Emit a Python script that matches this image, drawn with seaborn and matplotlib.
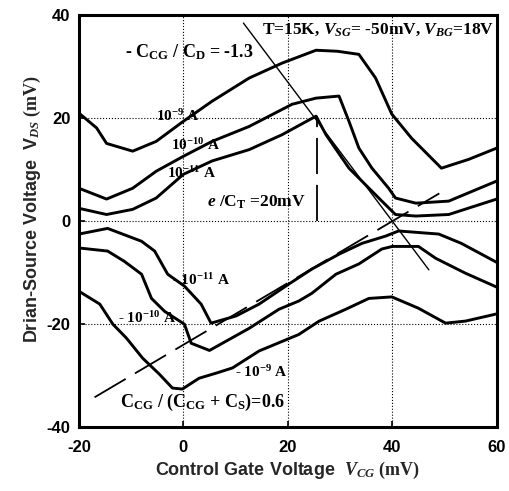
import numpy as np
import pandas as pd
import seaborn as sns
import matplotlib.pyplot as plt

# contour lines of constant drain current
c9_x = [-20, -16.6, -14.7, -9.7, -5.2, 0, 5.5, 12.6, 18.9, 25.4, 29.5, 33.6, 36.8, 39.9, 43.7, 49.4, 54.6, 60]
c9_y = [21, 18.1, 15.1, 13.6, 15.5, 19.4, 23.3, 27.8, 30.7, 33.2, 33.0, 32.4, 27.8, 20.8, 16.1, 10.3, 12.0, 14.2]

c10_x = [-20, -14.7, -9.7, -5.2, 0, 5.5, 12.6, 20.8, 25.4, 29.8, 31.7, 33.6, 36.1, 39.3, 40.6, 44.5, 50.8, 60]
c10_y = [6.4, 4.3, 6.4, 9.7, 12.6, 15.5, 18.4, 22.7, 23.9, 24.3, 19.4, 14.2, 10.3, 6.4, 4.5, 3.5, 3.9, 7.8]

c11_x = [-20, -14.7, -9.7, -5.2, 0, 5.5, 12.6, 18.9, 25.4, 27.3, 31.7, 38, 40.6, 44.5, 50.8, 60]
c11_y = [2.5, 1.3, 2.3, 4.5, 9.1, 11.7, 13.9, 16.8, 20.4, 16.8, 10.3, 3.9, 1.3, 1.0, 1.3, 4.3]

n11_x = [-20, -14.5, -8, -5.5, -3, 0.2, 3.4, 5.3, 10.1, 14.5, 20.2, 24.6, 29.8, 34.2, 38.7, 41.2, 48.9, 53.2, 60]
n11_y = [-2.5, -1.4, -3.9, -5.8, -10.3, -12.6, -16.1, -19.8, -18.4, -16.1, -12.2, -9.3, -6.4, -4.3, -2.9, -1.9, -2.5, -4.3, -8.0]

n10_x = [-20, -14.5, -11.3, -8, -6.1, -3.6, 0.2, 1.5, 5.0, 12.6, 18.3, 22.1, 24.6, 29.2, 33.6, 38, 40, 45, 48.3, 54, 60]
n10_y = [-5.2, -5.8, -7.8, -10.3, -15, -17.5, -20, -23.7, -25.1, -20.8, -17.1, -15.5, -14, -10.3, -8.3, -5.4, -4.9, -4.9, -7.2, -10.1, -12.8]

n9_x = [-20, -16, -13.5, -10.9, -7.8, -4.6, -2.1, -0.2, 3, 6.3, 9.4, 14.5, 22.1, 26, 31.1, 35.5, 39.9, 45, 50.2, 54, 60]
n9_y = [-13.6, -16.1, -20, -22.7, -26.6, -29.7, -32.4, -32.6, -30.5, -29.5, -28.5, -25.2, -22, -19.4, -17.1, -15, -14.7, -16.9, -19.8, -19.4, -18]

# guide lines: slopes through the crossing point at (40, 0)
pivot_x = 40
drain_slope = -1.35
drain_x = [11.5, 47]
source_slope = 0.6
source_x = [-17, 49]
charge_x = 25.5
charge_y = [0, 20.4]

curves = {
    'c9': (c9_x, c9_y), 'c10': (c10_x, c10_y), 'c11': (c11_x, c11_y),
    'n11': (n11_x, n11_y), 'n10': (n10_x, n10_y), 'n9': (n9_x, n9_y),
}
df = pd.concat([pd.DataFrame({'vcg': x, 'vds': y, 'curve': k}) for k, (x, y) in curves.items()])

sns.set_theme(style='ticks')
plt.rcParams['font.family'] = ['Liberation Sans', 'DejaVu Sans']
plt.rcParams['axes.unicode_minus'] = False
plt.rcParams['mathtext.fontset'] = 'custom'
plt.rcParams['mathtext.rm'] = 'Liberation Serif:bold'
plt.rcParams['mathtext.it'] = 'Liberation Serif:italic:bold'
plt.rcParams['mathtext.bf'] = 'Liberation Serif:bold'
plt.rcParams['mathtext.default'] = 'it'

fig = plt.figure(figsize=(5.09, 4.91), dpi=100)
ax = fig.add_axes([0.155, 0.130, 0.821, 0.839])

sns.lineplot(data=df, x='vcg', y='vds', units='curve', estimator=None, sort=False,
             color='black', linewidth=2.1, ax=ax)

# thin guide lines
dx = np.array(drain_x)
sns.lineplot(x=dx, y=drain_slope * (dx - pivot_x), color='black', linewidth=1.0, ax=ax)
sx = np.array(source_x)
sns.lineplot(x=sx, y=source_slope * (sx - pivot_x), color='black', linewidth=1.3,
             dashes=False, ax=ax).lines[-1].set_dashes((20, 6))
ax.plot([charge_x, charge_x], charge_y, color='black', linewidth=1.3, dashes=(20, 6))

ax.set_xlim(-20, 60)
ax.set_ylim(-40, 40)
ax.set_xticks([-20, 0, 20, 40, 60])
ax.set_yticks([-40, -20, 0, 20, 40])
ax.grid(True, linestyle=':', color='black', linewidth=0.8)
for s in ax.spines.values():
    s.set_linewidth(2.2)
    s.set_color('black')
ax.tick_params(direction='in', length=4, width=1.2, labelsize=12, colors='black')
ax.tick_params(axis='x', pad=9)
ax.tick_params(axis='y', pad=6)
for lab in ax.get_xticklabels() + ax.get_yticklabels():
    lab.set_fontweight('bold')

ax.set_xlabel(r'Control Gate Voltage  $V_{CG}$ $\mathrm{(mV)}$', fontsize=13, fontweight='bold')
ax.set_ylabel(r'Drian-Source Voltage  V$_{DS}$ $\mathrm{(mV)}$', fontsize=13, fontweight='bold')
ax.xaxis.set_label_coords(0.5, -0.08)
ax.yaxis.set_label_coords(-0.085, 0.53)

serif = dict(family=['Liberation Serif', 'DejaVu Serif'], fontweight='bold', color='black')
ax.text(59.5, 37.3, r'T=15K, $V_{SG}$= -50mV, $V_{BG}$=18V', ha='right', va='center', fontsize=12.5, **serif)
ax.text(1.2, 32.8, r'- $\mathrm{C_{CG}}$ / $\mathrm{C_D}$ = -1.3', ha='center', va='center', fontsize=13, **serif)
ax.text(-1.0, 20.5, r'$\mathrm{10^{-9}}$ A', ha='center', va='center', fontsize=11, **serif)
ax.text(2.3, 14.8, r'$\mathrm{10^{-10}}$ A', ha='center', va='center', fontsize=11, **serif)
ax.text(1.6, 9.4, r'$\mathrm{10^{-11}}$ A', ha='center', va='center', fontsize=11, **serif)
ax.text(14.0, 3.6, r'$e$ /$\mathrm{C_T}$ =20mV', ha='center', va='center', fontsize=12.5, **serif)
ax.text(3.3, -11.4, r'- $\mathrm{10^{-11}}$ A', ha='center', va='center', fontsize=11, **serif)
ax.text(-7.0, -18.8, r'- $\mathrm{10^{-10}}$ A', ha='center', va='center', fontsize=11, **serif)
ax.text(15.0, -29.3, r'- $\mathrm{10^{-9}}$ A', ha='center', va='center', fontsize=11, **serif)
ax.text(3.7, -35.2, r'$\mathrm{C_{CG}}$ / ($\mathrm{C_{CG}}$ + $\mathrm{C_S}$)=0.6', ha='center', va='center', fontsize=13, **serif)

fig.savefig('out.png', dpi=100)
